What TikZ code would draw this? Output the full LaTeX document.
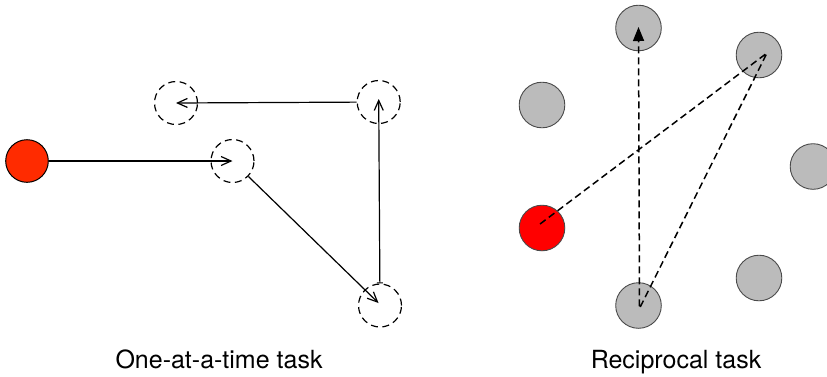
\documentclass[tikz,border=0pt]{standalone}
\usepackage{fontspec}
\setmainfont{TeX Gyre Heros}
\usetikzlibrary{arrows.meta}
\definecolor{agentred}{HTML}{FF2B00}
\definecolor{pured}{HTML}{FF0000}
\definecolor{peergray}{HTML}{BBBBBB}
\definecolor{rimgray}{HTML}{4A4A4A}
\tikzset{
  agent/.style={circle, draw=black, line width=1pt, fill=agentred, minimum size=42.6pt, inner sep=0pt},
  ghost/.style={circle, draw=black, line width=1.2pt, dash pattern=on 7pt off 4.5pt, minimum size=43pt, inner sep=0pt},
  peer/.style={circle, draw=rimgray, line width=0.9pt, fill=peergray, minimum size=45.6pt, inner sep=0pt},
  leader/.style={peer, fill=pured},
  hop/.style={draw=black, line width=1.2pt, -{Straight Barb[length=10pt,width=9pt,line width=1.2pt]}},
  relay/.style={draw=black, line width=1.5pt, dash pattern=on 7pt off 4pt, -{Triangle[length=14pt,width=11pt]}},
  caption/.style={font=\fontsize{25}{30}\selectfont, inner sep=0pt, anchor=base}
}
\begin{document}
\begin{tikzpicture}[x=1pt, y=-1pt]
  \useasboundingbox (0,0) rectangle (827,376);

  % left panel: one target at a time
  \node[agent] (start) at (27,161) {};
  \node[ghost] (g1) at (232.5,161) {};
  \node[ghost] (g2) at (380,305.5) {};
  \node[ghost] (g3) at (378.7,102) {};
  \node[ghost] (g4) at (176,103) {};

  \draw[hop] (start) -- (g1.center);
  \draw[hop] (g1) -- ([shift={(-1.5,-2.5)}]g2.center);
  \draw[hop, {Bar[width=6pt,line width=1pt]}-{Straight Barb[length=10pt,width=9pt,line width=1.2pt]}] (g2) -- ([shift={(0,-3)}]g3.center);
  \draw[hop] (g3) -- (g4.center);

  % right panel: ring of peers
  \node[peer] (p1) at (638.5,28) {};
  \node[peer] (p2) at (759,55) {};
  \node[peer] (p3) at (542,105) {};
  \node[peer] (p4) at (813,166.5) {};
  \node[leader] (p5) at (542,228) {};
  \node[peer] (p6) at (759,278) {};
  \node[peer] (p7) at (638.5,305.5) {};

  \draw[relay] ([shift={(-2,-4)}]p5.center) -- ([shift={(8,-2)}]p2.center)
               -- ([shift={(1,3)}]p7.center) -- ([shift={(0,-1)}]p1.center);

  % captions
  \node[caption] (capl) at (219,368) {One-at-a-time task};
  \node[caption] (capr) at (676,368) {Reciprocal task};
\end{tikzpicture}
\end{document}
